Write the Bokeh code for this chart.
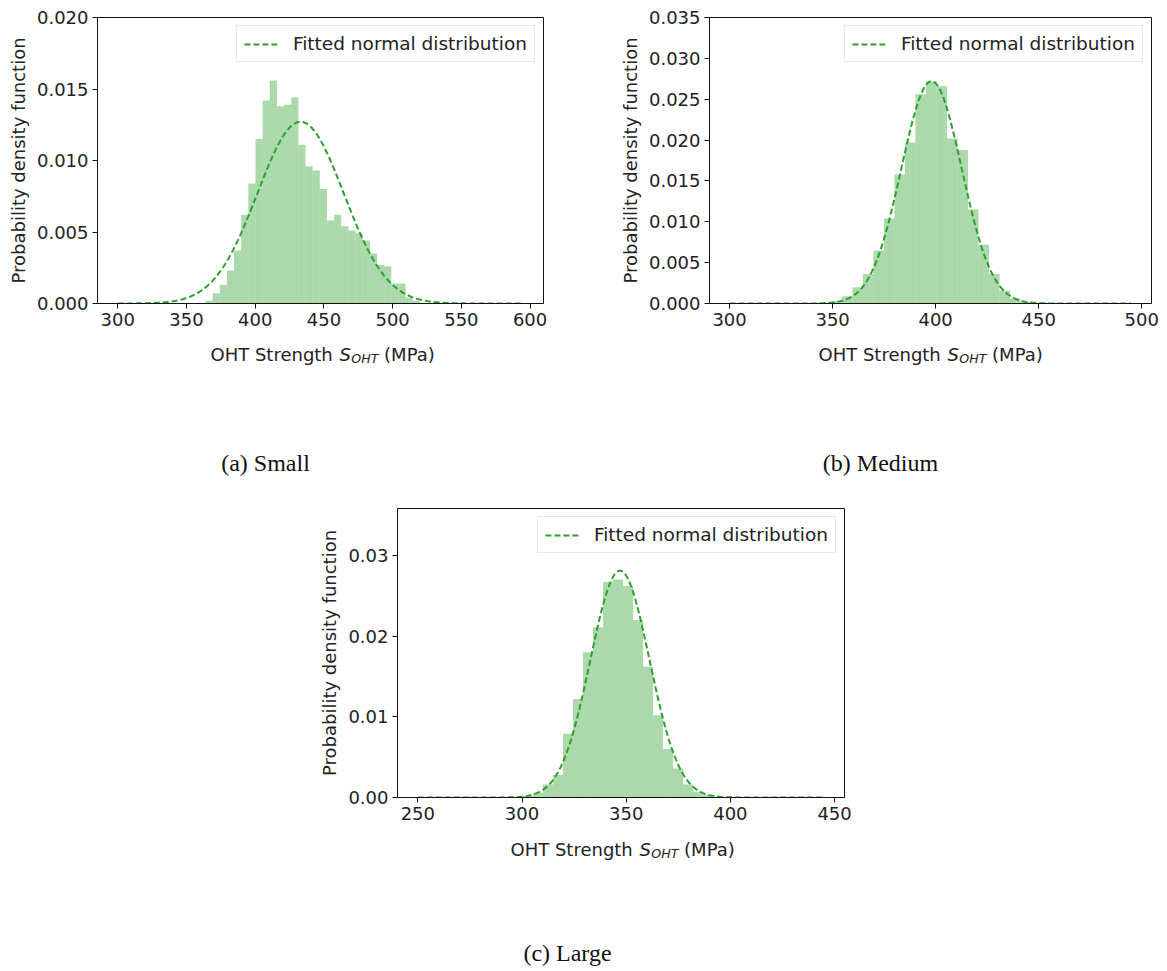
import numpy as np
from bokeh.plotting import figure
from bokeh.layouts import column, row
from bokeh.models import (Label, Legend, LegendItem, FixedTicker, NumeralTickFormatter,
                          Spacer, Range1d, ColumnDataSource)
from bokeh.embed import file_html
from bokeh.resources import INLINE

# ---------------- data ----------------
# (a) Small
a_edges = [363.8, 369.0, 374.2, 379.4, 384.6, 389.8, 395.0, 400.2, 405.4, 410.6, 415.8,
           421.0, 426.2, 431.4, 436.6, 441.8, 447.0, 452.2, 457.4, 462.6, 467.8, 473.0,
           478.2, 483.4, 488.6, 493.8, 499.0, 504.2, 509.4, 514.6, 519.8]
a_density = [0.0002, 0.0007, 0.0013, 0.0023, 0.0037, 0.0062, 0.0084, 0.0115, 0.0142, 0.0156,
             0.0138, 0.0139, 0.0144, 0.0111, 0.0096, 0.0093, 0.0080, 0.0058, 0.0062, 0.0054,
             0.0051, 0.0049, 0.0044, 0.0035, 0.0027, 0.0026, 0.0014, 0.0014, 0.0004, 0.0002]
a_fit = {"mu": 433.0, "sigma": 31.4, "lo": 300.0, "hi": 595.0}
a_xticks = [300, 350, 400, 450, 500, 550, 600]
a_yticks = [0.000, 0.005, 0.010, 0.015, 0.020]

# (b) Medium
b_edges = [344.3, 349.4, 354.5, 359.6, 364.7, 369.8, 374.9, 380.0, 385.1, 390.2, 395.3,
           400.4, 405.5, 410.6, 415.7, 420.8, 425.9, 431.0, 436.1, 441.2, 446.3, 451.4]
b_density = [0.0001, 0.0003, 0.0009, 0.0020, 0.0036, 0.0065, 0.0104, 0.0158, 0.0197, 0.0256,
             0.0272, 0.0266, 0.0202, 0.0188, 0.0115, 0.0072, 0.0036, 0.0016, 0.0006, 0.0002,
             0.0001]
b_fit = {"mu": 398.0, "sigma": 14.67, "lo": 300.0, "hi": 495.0}
b_xticks = [300, 350, 400, 450, 500]
b_yticks = [0.000, 0.005, 0.010, 0.015, 0.020, 0.025, 0.030, 0.035]

# (c) Large
c_edges = [300.5, 305.3, 310.1, 314.9, 319.7, 324.5, 329.3, 334.1, 338.9, 343.7, 348.5,
           353.3, 358.1, 362.9, 367.7, 372.5, 377.3, 382.1, 386.9, 391.7, 396.5]
c_density = [0.0002, 0.0006, 0.0016, 0.0028, 0.0079, 0.0122, 0.0180, 0.0211, 0.0267, 0.0270,
             0.0262, 0.0220, 0.0162, 0.0102, 0.0060, 0.0036, 0.0016, 0.0007, 0.0003, 0.0001]
c_fit = {"mu": 347.0, "sigma": 14.2, "lo": 250.0, "hi": 445.0}
c_xticks = [250, 300, 350, 400, 450]
c_yticks = [0.00, 0.01, 0.02, 0.03]

legend_text = "Fitted normal distribution"
ylabel_text = "Probability density function"
xlabel_parts = ["OHT Strength", "S", "OHT", "(MPa)"]
captions = ["(a) Small", "(b) Medium", "(c) Large"]

# ---------------- styling ----------------
SANS = "DejaVu Sans"
FS = "18px"
BAR = "#2ca02c"
LINE = "#2ca02c"
TXT = "#222222"


def make_panel(edges, dens, fit, xr, yr, xticks, yticks, yfmt, width, height, bl, br, bt, bb):
    p = figure(width=width, height=height, output_backend="svg", toolbar_location=None,
               x_range=Range1d(*xr), y_range=Range1d(*yr),
               min_border_left=bl, min_border_right=br, min_border_top=bt, min_border_bottom=bb)
    p.background_fill_color = "white"
    p.border_fill_color = "white"
    p.xgrid.visible = False
    p.ygrid.visible = False
    p.outline_line_color = "#111111"
    p.outline_line_width = 1

    src = ColumnDataSource(dict(left=edges[:-1], right=edges[1:], top=dens))
    p.quad(left="left", right="right", top="top", bottom=0, source=src,
           fill_color=BAR, fill_alpha=0.4, line_color=None)

    xs = np.linspace(fit["lo"], fit["hi"], 300)
    ys = np.exp(-(xs - fit["mu"]) ** 2 / (2 * fit["sigma"] ** 2)) / (fit["sigma"] * np.sqrt(2 * np.pi))
    ln = p.line(xs, ys, line_color=LINE, line_width=2, line_dash="6 3")

    leg = Legend(items=[LegendItem(label=legend_text, renderers=[ln])], location="top_right")
    leg.label_text_font = SANS
    leg.label_text_font_size = "18.5px"
    leg.label_text_color = TXT
    leg.glyph_width = 35
    leg.glyph_height = 18
    leg.label_standoff = 14
    leg.padding = 7
    leg.margin = 8
    leg.border_line_color = "#d0d0d0"
    leg.border_line_width = 1
    leg.background_fill_alpha = 0.8
    p.add_layout(leg)

    for ax in (p.xaxis[0], p.yaxis[0]):
        ax.axis_line_color = "#111111"
        ax.major_tick_line_color = "#111111"
        ax.major_tick_out = 5
        ax.major_tick_in = 0
        ax.minor_tick_line_color = None
        ax.major_label_text_font = SANS
        ax.major_label_text_font_size = FS
        ax.major_label_text_color = TXT
        ax.major_label_standoff = 4

    p.xaxis.ticker = FixedTicker(ticks=xticks)
    p.yaxis.ticker = FixedTicker(ticks=yticks)
    p.yaxis.formatter = NumeralTickFormatter(format=yfmt)
    p.yaxis.axis_label = ylabel_text
    p.yaxis.axis_label_text_font = SANS
    p.yaxis.axis_label_text_font_size = FS
    p.yaxis.axis_label_text_font_style = "normal"
    p.yaxis.axis_label_text_color = TXT
    p.yaxis.axis_label_standoff = 5
    return p


def make_strip(width, height, x0, y_base, caption, cap_x, cap_y):
    """Text strip under a panel: x-axis title (with italic subscripted symbol) and caption."""
    s = figure(width=width, height=height, output_backend="svg", toolbar_location=None,
               x_range=Range1d(0, width), y_range=Range1d(height, 0),
               x_axis_location=None, y_axis_location=None,
               min_border_left=0, min_border_right=0, min_border_top=0, min_border_bottom=0)
    s.xgrid.visible = False
    s.ygrid.visible = False
    s.outline_line_color = None
    s.background_fill_color = "white"
    s.border_fill_color = "white"
    pieces = [
        (xlabel_parts[0], x0, y_base, FS, "normal"),
        (xlabel_parts[1], x0 + 128.9, y_base, FS, "italic"),
        (xlabel_parts[2], x0 + 140.8, y_base + 4, "12.6px", "italic"),
        (xlabel_parts[3], x0 + 173.6, y_base, FS, "normal"),
    ]
    for t, x, y, fs, st in pieces:
        s.add_layout(Label(x=x, y=y, text=t, text_font=SANS, text_font_size=fs,
                           text_font_style=st, text_color=TXT, text_align="left",
                           text_baseline="alphabetic"))
    s.add_layout(Label(x=cap_x, y=cap_y, text=caption, text_font="Liberation Serif",
                       text_font_size="24px", text_color="#111111",
                       text_align="center", text_baseline="middle"))
    return s


# top row: frames at x 97..543 and 705..1151, y 17..303
pa = make_panel(a_edges, a_density, a_fit, (285.25, 609.75), (0, 0.020), a_xticks, a_yticks,
                "0.000", 616, 338, 97, 73, 17, 35)
pb = make_panel(b_edges, b_density, b_fit, (290.25, 504.75), (0, 0.035), b_xticks, b_yticks,
                "0.000", 545, 338, 89, 10, 17, 35)
sa = make_strip(616, 150, 210, 16, captions[0], 265, 124)
sb = make_strip(545, 150, 202, 16, captions[1], 264, 124)

# bottom row: frame at x 397..844, y 508..797
pc = make_panel(c_edges, c_density, c_fit, (240.25, 454.75), (0, 0.0358), c_xticks, c_yticks,
                "0.00", 556, 344, 89, 20, 20, 35)
sc = make_strip(556, 139, 202, 17, captions[2], 259, 120)

layout = column(row(pa, pb), row(sa, sb),
                row(Spacer(width=308, height=344), pc),
                row(Spacer(width=308, height=139), sc))

open("out.html", "w").write(file_html(layout, INLINE))
